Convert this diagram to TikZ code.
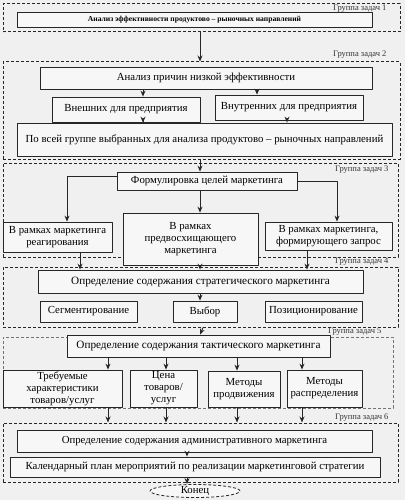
\documentclass[tikz,border=0pt]{standalone}
\usepackage{fontspec}
\setmainfont{Liberation Serif}
\usetikzlibrary{shapes.geometric, arrows.meta}
\begin{document}
\begin{tikzpicture}[x=1pt, y=-1pt, font=\fontsize{10.8}{12}\selectfont, line join=round, >={Stealth[length=6pt, width=5pt]},
  box/.style={draw=black!85, line width=0.8pt, fill=gray!6, inner sep=1pt, align=center},
  grp/.style={draw=black!85, line width=1pt, densely dashed, inner sep=0pt},
  glab/.style={anchor=east, font=\fontsize{8.5}{9}\selectfont, text=black!80},
  arr/.style={->, line width=0.9pt, draw=black!85}]
% фон
\fill[gray!12] (0,0) rectangle (405,500);
\useasboundingbox (0,0) rectangle (405,500);
% Группа задач 1
\node[grp, minimum width=397, minimum height=28] (G1) at (201.5,18) {};
\node[glab] at (390,9) {Группа задач 1};
\node[box, minimum width=355, minimum height=15, font=\bfseries\fontsize{7.6}{9}\selectfont] (t1) at (194.5,19.5) {Анализ эффективности продуктово -- рыночных направлений};
% Группа задач 2
\node[grp, minimum width=397, minimum height=97] (G2) at (201.5,110.5) {};
\node[glab] at (390,55) {Группа задач 2};
\node[box, minimum width=332, minimum height=22] (t2) at (206,78) {Анализ причин низкой эффективности};
\node[box, minimum width=148, minimum height=25] (t2a) at (126,109.5) {Внешних для предприятия};
\node[box, minimum width=148, minimum height=25] (t2b) at (289,107.5) {Внутренних для предприятия};
\node[box, minimum width=375, minimum height=33] (t2c) at (204.5,139.5) {По всей группе выбранных для анализа продуктово -- рыночных направлений};
\draw[arr] ([xshift=-1.5]G1.south) -- ([xshift=-1.5]G2.north);
\draw[arr] ([xshift=17]t2a.north |- t2.south) -- ([xshift=17]t2a.north);
\draw[arr] ([xshift=-32]t2b.north |- t2.south) -- ([xshift=-32]t2b.north);
\draw[arr] ([xshift=17]t2a.south) -- ([xshift=17]t2a.south |- t2c.north);
\draw[arr] ([xshift=-2]t2b.south) -- ([xshift=-2]t2b.south |- t2c.north);
% Группа задач 3
\node[grp, minimum width=395, minimum height=94] (G3) at (200.5,210) {};
\node[glab] at (392,170) {Группа задач 3};
\node[box, minimum width=180, minimum height=18] (t3) at (207,181) {Формулировка целей маркетинга};
\node[box, minimum width=109, minimum height=30] (t3a) at (57.5,237) {В рамках маркетинга\\реагирования};
\node[box, minimum width=135, minimum height=52] (t3b) at (190.5,239) {В рамках\\предвосхищающего\\маркетинга};
\node[box, minimum width=127, minimum height=28] (t3c) at (328.5,236) {В рамках маркетинга,\\формирующего запрос};
\draw[arr] ([xshift=-1.5]G2.south) -- ([xshift=-7]t3.north);
\draw[arr] ([yshift=5]t3.west) -| ([xshift=9.5]t3a.north);
\draw[arr] (t3.east) -| ([xshift=8.5]t3c.north);
\draw[arr] ([xshift=9.5]t3b.north |- t3.south) -- ([xshift=9.5]t3b.north);
% Группа задач 4
\node[grp, minimum width=395, minimum height=60] (G4) at (200.5,297) {};
\node[glab] at (392,262) {Группа задач 4};
\node[box, minimum width=325, minimum height=23] (t4) at (200.5,281.5) {\fontsize{11.2}{12}\selectfont Определение содержания стратегического маркетинга};
\node[box, minimum width=97, minimum height=21] (t4a) at (88.5,311.5) {Сегментирование};
\node[box, minimum width=64, minimum height=21] (t4b) at (205,311.5) {Выбор};
\node[box, minimum width=97, minimum height=21] (t4c) at (313.5,311.5) {Позиционирование};
\draw[arr] ([xshift=22.5]t3a.south) -- ([xshift=22.5]t3a.south |- t4.north);
\draw[arr] ([xshift=9.5]t3b.south) -- ([xshift=9.5]t3b.south |- t4.north);
\draw[arr] ([xshift=-21.5]t3c.south) -- ([xshift=-21.5]t3c.south |- t4.north);
\draw[arr] ([xshift=-0.5]t4.south) -- ([xshift=-5]t4b.north);
% Группа задач 5
\node[grp, draw=black!55, line width=0.5pt, minimum width=390, minimum height=71] (G5) at (198,372.5) {};
\node[glab] at (385,332) {Группа задач 5};
\node[box, minimum width=263, minimum height=22] (t5) at (198.5,346) {\fontsize{11.2}{12}\selectfont Определение содержания тактического маркетинга};
\node[box, minimum width=119, minimum height=37] (t5a) at (62.5,388.5) {Требуемые\\характеристики\\товаров/услуг};
\node[box, minimum width=67, minimum height=37] (t5b) at (163.5,388.5) {Цена\\товаров/\\услуг};
\node[box, minimum width=72, minimum height=36] (t5c) at (244,389) {Методы\\продвижения};
\node[box, minimum width=75, minimum height=37] (t5d) at (324.5,388.5) {Методы\\распределения};
\draw[arr] ([xshift=2.5]G4.south) -- ([xshift=1.5]t5.north);
\foreach \n/\dx in {t5a/45.5, t5b/2.5, t5c/-7, t5d/-22.5} {
  \draw[arr] ([xshift=\dx]\n.north |- t5.south) -- ([xshift=\dx]\n.north);
}
% Группа задач 6
\node[grp, minimum width=395, minimum height=59] (G6) at (200.5,452.5) {};
\node[glab] at (392,418) {Группа задач 6};
\node[box, minimum width=355, minimum height=22] (t6) at (194.5,441) {Определение содержания административного маркетинга};
\node[box, minimum width=370, minimum height=20] (t6a) at (195,467) {Календарный план мероприятий по реализации маркетинговой стратегии};
\foreach \n/\dx in {t5a/45.5, t5b/2.5, t5c/-7, t5d/-22.5} {
  \draw[arr] ([xshift=\dx]\n.south) -- ([xshift=\dx]\n.south |- G6.north);
}
\draw[arr] ([xshift=-7.5]t6.south) -- ([xshift=-8]t6a.north);
% Конец
\node[ellipse, draw=black!85, line width=0.8pt, densely dashed, fill=gray!6, minimum width=90, minimum height=13, inner sep=0pt] (end) at (195,491) {Конец};
\draw[arr] ([xshift=-8]t6a.south) -- ([xshift=-8]end.north);
\end{tikzpicture}
\end{document}
